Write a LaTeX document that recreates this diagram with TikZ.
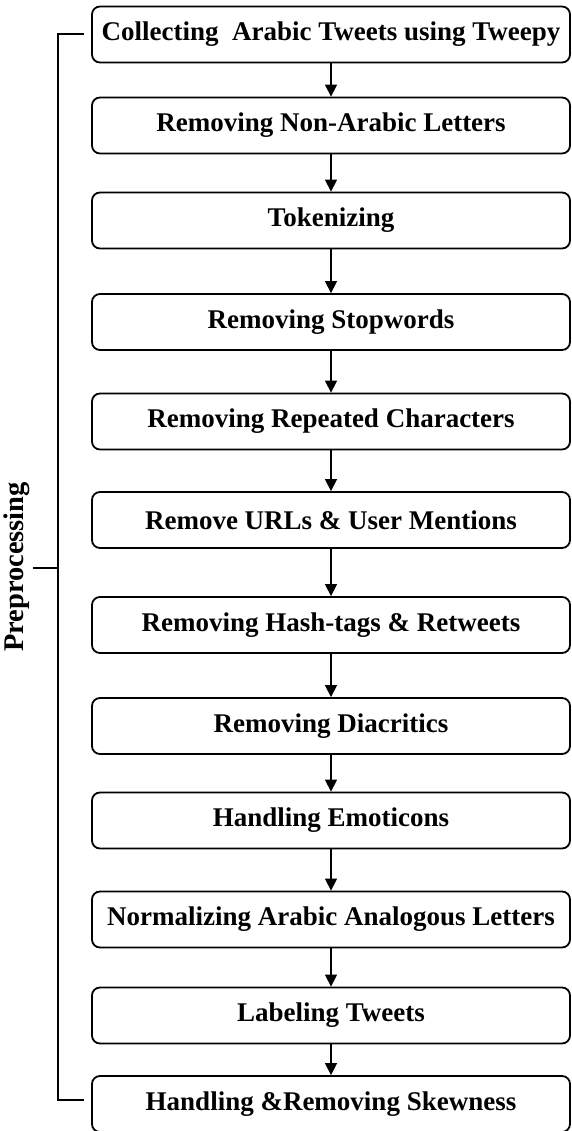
\documentclass[tikz,border=0pt]{standalone}
\usepackage{fontspec}
\setmainfont{Liberation Serif}
\usetikzlibrary{arrows.meta}
\begin{document}
\begin{tikzpicture}[x=1pt,y=-1pt,
  stepbox/.style={draw=black, line width=1.8pt, rounded corners=8pt,
    minimum width=478pt, minimum height=56pt, inner sep=0pt,
    font=\fontsize{27}{31}\selectfont\bfseries, text=black},
  flow/.style={draw=black, line width=1.4pt, -{Triangle[length=12pt,width=12pt]}},
  brack/.style={draw=black, line width=1.2pt}]
\useasboundingbox (0,0) rectangle (571,1131);
\node[stepbox] (b1) at (331,34.5) {Collecting\ \ Arabic Tweets using Tweepy};
\node[stepbox] (b2) at (331,125.5) {Removing Non-Arabic Letters};
\node[stepbox] (b3) at (331,220.5) {Tokenizing};
\node[stepbox] (b4) at (331,322) {Removing Stopwords};
\node[stepbox] (b5) at (331,421.5) {Removing Repeated Characters};
\node[stepbox] (b6) at (331,520) {Remove URLs \& User Mentions};
\node[stepbox] (b7) at (331,625) {Removing Hash-tags \& Retweets};
\node[stepbox] (b8) at (331,726) {Removing Diacritics};
\node[stepbox] (b9) at (331,820.5) {Handling Emoticons};
\node[stepbox] (b10) at (331,919.5) {Normalizing Arabic Analogous Letters};
\node[stepbox] (b11) at (331,1015.5) {Labeling Tweets};
\node[stepbox] (b12) at (331,1104) {Handling \&Removing Skewness};
\foreach \a/\b in {b1/b2,b2/b3,b3/b4,b4/b5,b5/b6,b6/b7,b7/b8,b8/b9,b9/b10,b10/b11,b11/b12}
  \draw[flow] (\a.south) -- (\b.north);
\coordinate (bt) at (84,34);
\coordinate (bb) at (84,1100);
\coordinate (tk) at (58,568);
\coordinate (tk2) at (33,568);
\draw[brack] (bt) -- (58,34) -- (58,1100) -- (bb);
\draw[brack] (tk) -- (tk2);
\node[rotate=90, font=\fontsize{28.5}{32}\selectfont\bfseries] (lab) at (17,567) {Preprocessing};
\end{tikzpicture}
\end{document}
